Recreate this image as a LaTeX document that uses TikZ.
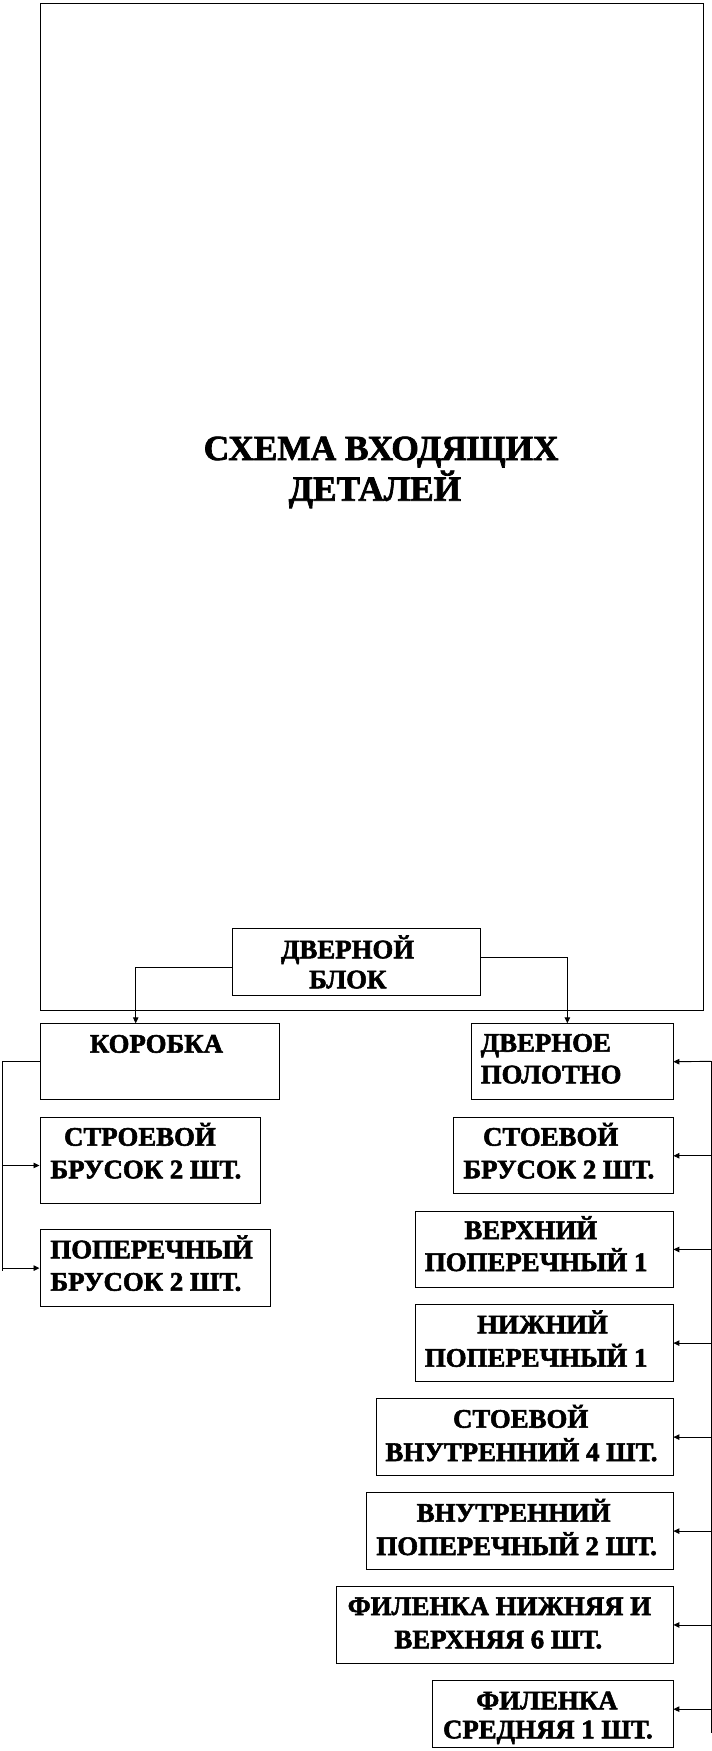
\documentclass[tikz,border=0pt]{standalone}
\usepackage{fontspec}
\setmainfont{Liberation Serif}
\newfontfamily\heavy[FakeBold=2]{Liberation Serif Bold}
\usetikzlibrary{arrows.meta}
\begin{document}
\begin{tikzpicture}[x=1pt,y=-1pt,line width=0.9pt,
  box/.style={draw,rectangle,inner sep=0pt,anchor=north west},
  txt/.style={anchor=base west,inner sep=0pt,font=\heavy\fontsize{26.8}{30}\selectfont},
  ttl/.style={anchor=base west,inner sep=0pt,font=\heavy\fontsize{35.3}{40}\selectfont},
  arr/.style={-{Triangle[length=6pt,width=5.5pt]}}]
\useasboundingbox (0,0) rectangle (712,1751);
% boxes
\node[box,minimum width=663pt,minimum height=1007.5pt] (frame) at (39.5,2.5) {};
\node[box,minimum width=248.4pt,minimum height=66.7pt] (dblock) at (231.6,928.3) {};
\node[box,minimum width=239.5pt,minimum height=76pt] (korobka) at (39.5,1023.3) {};
\node[box,minimum width=201.2pt,minimum height=76pt] (polotno) at (471.3,1023.3) {};
\node[box,minimum width=220.5pt,minimum height=86pt] (stroevoy) at (39.5,1117.3) {};
\node[box,minimum width=230.5pt,minimum height=76.7pt] (poperech) at (39.5,1229.3) {};
\node[box,minimum width=219.8pt,minimum height=76pt] (stoevoy) at (452.7,1117.3) {};
\node[box,minimum width=257.9pt,minimum height=76.6pt] (verhniy) at (414.6,1210.7) {};
\node[box,minimum width=257.9pt,minimum height=76.7pt] (nizhniy) at (414.6,1304.3) {};
\node[box,minimum width=297pt,minimum height=76.7pt] (stoevvn) at (375.5,1398.3) {};
\node[box,minimum width=306.1pt,minimum height=76.7pt] (vnutr) at (366.4,1492.3) {};
\node[box,minimum width=336.1pt,minimum height=77pt] (filenkaA) at (336.4,1586) {};
\node[box,minimum width=240.3pt,minimum height=67pt] (filenkaB) at (432.2,1680) {};
% texts
\node[ttl] (t1) at (203.3,460) {СХЕМА ВХОДЯЩИХ};
\node[ttl] (t2) at (288.3,500.7) {ДЕТАЛЕЙ};
\node[txt] (d1) at (280.6,958.3) {ДВЕРНОЙ};
\node[txt] (d2) at (308.7,988.3) {БЛОК};
\node[txt] (k1) at (89.4,1052.7) {КОРОБКА};
\node[txt] (p1) at (480.3,1051.7) {ДВЕРНОЕ};
\node[txt] (p2) at (480.3,1083.3) {ПОЛОТНО};
\node[txt] (s1) at (63.6,1145.7) {СТРОЕВОЙ};
\node[txt] (s2) at (50,1178.3) {БРУСОК 2 ШТ.};
\node[txt] (q1) at (50,1258.3) {ПОПЕРЕЧНЫЙ};
\node[txt] (q2) at (50,1290.7) {БРУСОК 2 ШТ.};
\node[txt] (r1) at (482.6,1145.7) {СТОЕВОЙ};
\node[txt] (r2) at (463,1178.3) {БРУСОК 2 ШТ.};
\node[txt] (v1) at (464,1239) {ВЕРХНИЙ};
\node[txt] (v2) at (424.5,1271) {ПОПЕРЕЧНЫЙ 1};
\node[txt] (n1) at (476.7,1333.3) {НИЖНИЙ};
\node[txt] (n2) at (424.5,1366.7) {ПОПЕРЕЧНЫЙ 1};
\node[txt] (w1) at (452.6,1427.7) {СТОЕВОЙ};
\node[txt] (w2) at (385,1461) {ВНУТРЕННИЙ 4 ШТ.};
\node[txt] (u1) at (416.3,1521.7) {ВНУТРЕННИЙ};
\node[txt] (u2) at (376,1555) {ПОПЕРЕЧНЫЙ 2 ШТ.};
\node[txt] (f1) at (347.3,1615) {ФИЛЕНКА НИЖНЯЯ И};
\node[txt] (f2) at (394,1648.3) {ВЕРХНЯЯ 6 ШТ.};
\node[txt] (g1) at (475.8,1709.3) {ФИЛЕНКА};
\node[txt] (g2) at (442.6,1738.3) {СРЕДНЯЯ 1 ШТ.};
% connectors from door block
\draw[arr] ([yshift=-5pt]dblock.west) -| ([xshift=-24pt]korobka.north);
\draw[arr] ([yshift=4.4pt]dblock.east) -| ([xshift=-5pt]polotno.north);
% left bus
\coordinate (lbus) at (2.7,1271);
\coordinate (sin) at ([yshift=-4.7pt]stroevoy.west);
\draw (korobka.west) -| (lbus);
\draw[arr] (lbus |- sin) -- (sin);
\draw[arr] (lbus |- poperech.west) -- (poperech.west);
% right bus
\coordinate (rtop) at (711,1061.3);
\coordinate (rbot) at (711,1733);
\coordinate (gin) at ([yshift=4.8pt]filenkaB.east);
\draw (rtop) -- (rbot);
\draw[arr] (rtop) -- (polotno.east);
\foreach \b in {stoevoy,verhniy,nizhniy,stoevvn,vnutr,filenkaA}
  \draw[arr] (rtop |- \b.east) -- (\b.east);
\draw[arr] (rtop |- gin) -- (gin);
\end{tikzpicture}
\end{document}
